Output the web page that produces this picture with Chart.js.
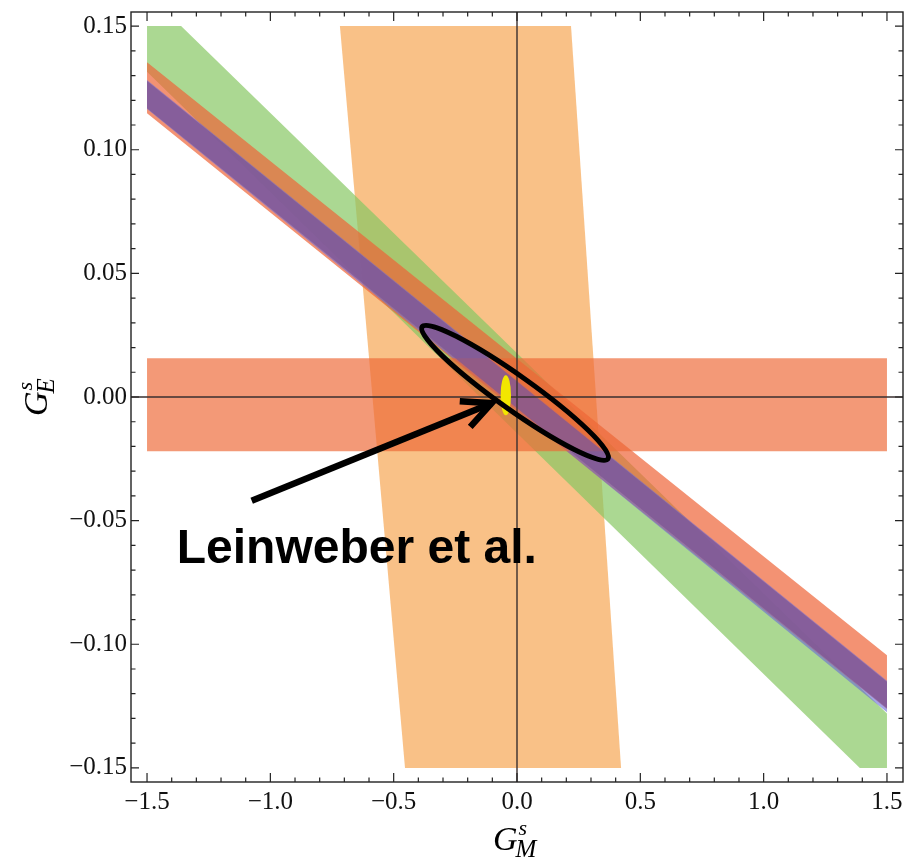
<!DOCTYPE html>
<html><head><meta charset="utf-8">
<style>html,body{margin:0;padding:0;background:#fff}#wrap{width:905px;height:861px;position:relative}</style>
<script src="https://cdn.jsdelivr.net/npm/chart.js@4.4.1/dist/chart.umd.min.js"></script>
</head><body><div id="wrap"><canvas id="c" width="905" height="861"></canvas></div>
<script>
// ---- axis ranges & ticks ----
const xRange = [-1.565, 1.565];
const yRange = [-0.1557, 0.1557];
const xMajorTicks = [-1.5, -1.0, -0.5, 0.0, 0.5, 1.0, 1.5];
const yMajorTicks = [-0.15, -0.10, -0.05, 0.00, 0.05, 0.10, 0.15];
const xMinorTicks = [-1.4,-1.3,-1.2,-1.1,-0.9,-0.8,-0.7,-0.6,-0.4,-0.3,-0.2,-0.1,0.1,0.2,0.3,0.4,0.6,0.7,0.8,0.9,1.1,1.2,1.3,1.4];
const yMinorTicks = [-0.14,-0.13,-0.12,-0.11,-0.09,-0.08,-0.07,-0.06,-0.04,-0.03,-0.02,-0.01,0.01,0.02,0.03,0.04,0.06,0.07,0.08,0.09,0.11,0.12,0.13,0.14];

// ---- constraint regions (G_M^s, G_E^s) ----
const tanX = [-0.718, 0.219, 0.422, -0.454, -0.718];
const tanY = [0.15, 0.15, -0.15, -0.15, 0.15];
const greenX = [-1.5, -1.362, 1.5, 1.5, 1.39, -1.5, -1.5];
const greenY = [0.15, 0.15, -0.128, -0.15, -0.15, 0.1315, 0.15];
const redSlantX = [-1.5, 1.5, 1.5, -1.5, -1.5];
const redSlantY = [0.1354, -0.1044, -0.1262, 0.1148, 0.1354];
const blueX = [-1.5, 1.5, 1.5, -1.5, -1.5];
const blueY = [0.1282, -0.1148, -0.1275, 0.1165, 0.1282];
const purpleX = [-1.5, 1.5, 1.5, -1.5, -1.5];
const purpleY = [0.1278, -0.1152, -0.1259, 0.1168, 0.1278];
const redHorizX = [-1.5, 1.5, 1.5, -1.5, -1.5];
const redHorizY = [0.0157, 0.0157, -0.0219, -0.0219, 0.0157];

// combined fit ellipse: major-axis ends and one minor-axis end
const fitEllipseX = [-0.393, 0.377, 0.0302];
const fitEllipseY = [0.029, -0.0256, 0.0074];
// Leinweber et al. ellipse: center, x-radius point, y-radius point
const leinX = [-0.0454, -0.0243, -0.0454];
const leinY = [0.0007, 0.0007, 0.0088];
// arrow: tail, tip
const arrowX = [-1.0756, -0.1026];
const arrowY = [-0.042, -0.0025];
const annotationText = 'Leinweber et al.';
const annotationAt = {x: -1.3796, y: -0.0672};

function pts(xs, ys) { return xs.map((x, i) => ({x: x, y: ys[i]})); }
function region(xs, ys, color) {
  return {data: pts(xs, ys), showLine: true, fill: 'shape', backgroundColor: color,
          borderWidth: 0, borderColor: 'rgba(0,0,0,0)', pointRadius: 0, tension: 0};
}
function minus(v, d) {
  const s = Math.abs(v).toFixed(d);
  return v < -1e-9 ? '\u2212' + s : s;
}

const overlay = {
  id: 'overlay',
  afterDatasetsDraw(chart) {
    const c = chart.ctx, a = chart.chartArea, xs = chart.scales.x, ys = chart.scales.y;
    const px = v => xs.getPixelForValue(v), py = v => ys.getPixelForValue(v);
    c.save();
    // crosshair axes
    c.strokeStyle = '#3a3030'; c.lineWidth = 1.4;
    c.beginPath();
    c.moveTo(px(0), a.top); c.lineTo(px(0), a.bottom);
    c.moveTo(a.left, py(0)); c.lineTo(a.right, py(0));
    c.stroke();
    // Leinweber ellipse (yellow)
    const lcx = px(leinX[0]), lcy = py(leinY[0]);
    c.fillStyle = '#f2e600';
    c.beginPath();
    c.ellipse(lcx, lcy, Math.abs(px(leinX[1]) - lcx), Math.abs(py(leinY[2]) - lcy), 0, 0, 2 * Math.PI);
    c.fill();
    // fit ellipse (black outline)
    const ax = px(fitEllipseX[0]), ay = py(fitEllipseY[0]);
    const bx = px(fitEllipseX[1]), by = py(fitEllipseY[1]);
    const mx = px(fitEllipseX[2]), my = py(fitEllipseY[2]);
    const cx = (ax + bx) / 2, cy = (ay + by) / 2;
    const rx = Math.hypot(bx - ax, by - ay) / 2, ry = Math.hypot(mx - cx, my - cy);
    c.strokeStyle = '#000'; c.lineWidth = 5;
    c.beginPath();
    c.ellipse(cx, cy, rx - 2.5, ry, Math.atan2(by - ay, bx - ax), 0, 2 * Math.PI);
    c.stroke();
    // arrow
    const tx = px(arrowX[0]), ty = py(arrowY[0]), hx = px(arrowX[1]), hy = py(arrowY[1]);
    const ang = Math.atan2(ty - hy, tx - hx);
    c.lineWidth = 6.5; c.lineCap = 'butt'; c.lineJoin = 'miter';
    c.beginPath(); c.moveTo(tx, ty); c.lineTo(hx, hy); c.stroke();
    c.beginPath();
    c.moveTo(hx + 32 * Math.cos(ang + 0.45), hy + 32 * Math.sin(ang + 0.45));
    c.lineTo(hx, hy);
    c.lineTo(hx + 32 * Math.cos(ang - 0.45), hy + 32 * Math.sin(ang - 0.45));
    c.stroke();
    // annotation
    c.fillStyle = '#000';
    c.font = 'bold 48px "Liberation Sans", Arial, sans-serif';
    c.textAlign = 'left'; c.textBaseline = 'alphabetic';
    c.fillText(annotationText, px(annotationAt.x), py(annotationAt.y));
    // frame
    c.strokeStyle = '#222'; c.lineWidth = 1.4;
    c.strokeRect(a.left, a.top, a.right - a.left, a.bottom - a.top);
    c.lineWidth = 1.2;
    c.beginPath();
    const tick = (vals, len) => {
      vals.forEach(v => {
        const X = px(v);
        c.moveTo(X, a.bottom); c.lineTo(X, a.bottom - len);
        c.moveTo(X, a.top); c.lineTo(X, a.top + len);
      });
    };
    const tickY = (vals, len) => {
      vals.forEach(v => {
        const Y = py(v);
        c.moveTo(a.left, Y); c.lineTo(a.left + len, Y);
        c.moveTo(a.right, Y); c.lineTo(a.right - len, Y);
      });
    };
    tick(xMajorTicks, 9); tick(xMinorTicks, 4.5);
    tickY(yMajorTicks, 8); tickY(yMinorTicks, 4.5);
    c.stroke();
    // axis titles
    const glabel = (sub) => {
      c.font = 'italic 34px "Liberation Serif", serif';
      c.fillText('G', 0, 0);
      const w = c.measureText('G').width;
      c.font = 'italic 22px "Liberation Serif", serif';
      c.fillText('s', w + 1, -15);
      c.font = 'italic 25px "Liberation Serif", serif';
      c.fillText(sub, w - 2, 7);
    };
    c.save(); c.translate(493, 850); glabel('M'); c.restore();
    c.save(); c.translate(47, 416); c.rotate(-Math.PI / 2); glabel('E'); c.restore();
    c.restore();
  }
};

const tickFont = {family: '"Liberation Serif", "Times New Roman", serif', size: 25};
new Chart(document.getElementById('c'), {
  type: 'scatter',
  data: {datasets: [
    region(purpleX, purpleY, 'rgba(125,85,150,0.75)'),
    region(redHorizX, redHorizY, 'rgba(238,105,55,0.68)'),
    region(blueX, blueY, 'rgba(105,105,215,0.6)'),
    region(redSlantX, redSlantY, 'rgba(238,100,55,0.7)'),
    region(greenX, greenY, 'rgba(135,200,100,0.7)'),
    region(tanX, tanY, 'rgba(247,178,105,0.8)')
  ]},
  options: {
    responsive: false, animation: false, devicePixelRatio: 1,
    layout: {padding: {left: 11, right: 2, top: 12, bottom: 9}},
    plugins: {legend: {display: false}, tooltip: {enabled: false}},
    scales: {
      x: {type: 'linear', min: xRange[0], max: xRange[1],
          afterBuildTicks: s => { s.ticks = xMajorTicks.map(v => ({value: v})); },
          afterFit: s => { s.height = 70; s.paddingLeft = 0; s.paddingRight = 0; },
          ticks: {callback: v => minus(v, 1), font: tickFont, color: '#111', padding: 5, maxRotation: 0, autoSkip: false},
          grid: {display: false, drawTicks: false}, border: {display: false}},
      y: {type: 'linear', min: yRange[0], max: yRange[1],
          afterBuildTicks: s => { s.ticks = yMajorTicks.map(v => ({value: v})); },
          afterFit: s => { s.width = 120; s.paddingTop = 0; s.paddingBottom = 0; },
          ticks: {callback: v => minus(v, 2), font: tickFont, color: '#111', padding: 4, autoSkip: false},
          grid: {display: false, drawTicks: false}, border: {display: false}}
    }
  },
  plugins: [overlay]
});
</script></body></html>
